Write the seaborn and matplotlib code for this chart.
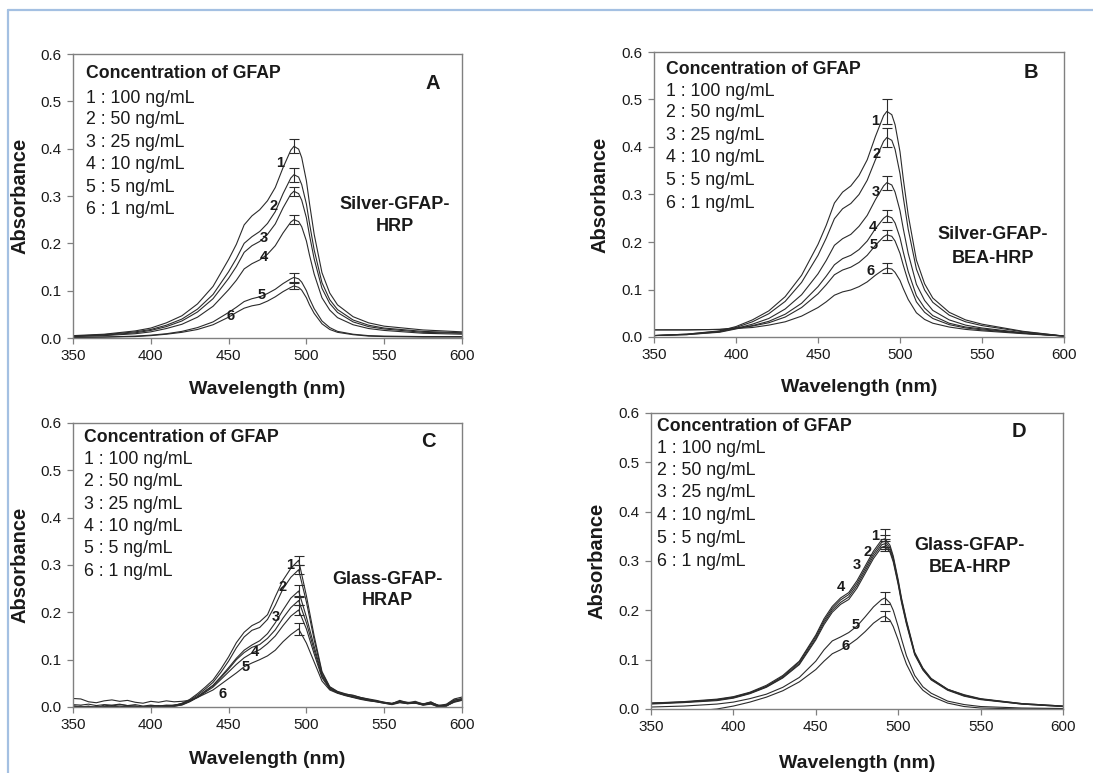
import numpy as np
import pandas as pd
import matplotlib
matplotlib.use("Agg")
import matplotlib.pyplot as plt
import seaborn as sns
from matplotlib.lines import Line2D
from matplotlib.ticker import FormatStrFormatter, MultipleLocator

sns.set_style("ticks")
plt.rcParams["font.family"] = ["Liberation Sans", "DejaVu Sans"]

# ---------------- data ----------------
curve_ids = ["1", "2", "3", "4", "5", "6"]
conc_labels = ["1 : 100 ng/mL", "2 : 50 ng/mL", "3 : 25 ng/mL",
               "4 : 10 ng/mL", "5 : 5 ng/mL", "6 : 1 ng/mL"]
legend_title = "Concentration of GFAP"

wl_grid = [350, 370, 390, 400, 410, 420, 430, 440, 450, 455, 460, 465, 470, 475,
           480, 485, 490, 492, 495, 497, 500, 502, 505, 510, 515, 520, 530, 540,
           550, 575, 600]

wl_grid_c = [350, 355, 360, 365, 370, 375, 380, 385, 390, 395, 400, 405, 410, 415,
             420, 425, 430, 435, 440, 445, 450, 455, 460, 465, 470, 475, 480, 485,
             490, 495, 500, 505, 510, 515, 520, 525, 530, 535, 540, 545, 550, 555,
             560, 565, 570, 575, 580, 585, 590, 595, 600]

# Panel A : Silver-GFAP-HRP
a1 = [.005, .008, .015, .021, .032, .047, .072, .109, .166, .198, .239, .258, .271, .290, .318, .360, .397, .405, .399, .381, .332, .284, .219, .138, .095, .070, .045, .032, .025, .017, .013]
a2 = [.004, .007, .013, .018, .027, .040, .061, .092, .140, .168, .200, .214, .225, .242, .267, .305, .338, .345, .340, .324, .283, .242, .186, .117, .081, .060, .038, .027, .021, .014, .011]
a3 = [.004, .006, .011, .016, .024, .036, .055, .083, .126, .151, .181, .195, .204, .219, .241, .275, .304, .310, .305, .291, .254, .217, .167, .105, .073, .054, .034, .024, .019, .012, .010]
a4 = [.003, .005, .009, .013, .020, .029, .044, .067, .102, .122, .146, .157, .165, .177, .195, .222, .245, .250, .246, .235, .205, .175, .135, .085, .059, .043, .028, .020, .016, .010, .008]
a5 = [.001, .002, .004, .006, .009, .014, .022, .034, .054, .065, .077, .083, .087, .094, .103, .115, .125, .128, .125, .118, .100, .083, .062, .036, .022, .014, .008, .005, .004, .003, .003]
a6 = [.001, .002, .003, .005, .008, .012, .018, .028, .044, .054, .063, .068, .071, .078, .087, .098, .107, .110, .107, .101, .085, .070, .052, .030, .018, .012, .007, .004, .003, .002, .002]
a_err = [0.015, 0.015, 0.010, 0.010, 0.010, 0.007]

# Panel B : Silver-GFAP-BEA-HRP
b1 = [.003, .006, .013, .022, .036, .055, .085, .130, .195, .235, .282, .305, .318, .340, .373, .422, .466, .475, .468, .447, .390, .333, .257, .162, .112, .082, .052, .036, .027, .012, .002]
b2 = [.003, .006, .012, .020, .032, .049, .075, .115, .172, .208, .249, .270, .281, .300, .330, .373, .412, .420, .414, .395, .344, .294, .227, .143, .099, .073, .046, .032, .024, .011, .002]
b3 = [.003, .005, .011, .018, .027, .039, .059, .089, .133, .161, .193, .207, .216, .233, .256, .289, .318, .325, .320, .305, .266, .228, .176, .111, .077, .056, .036, .025, .019, .009, .002]
b4 = [.003, .005, .010, .017, .024, .033, .048, .071, .106, .128, .152, .165, .172, .184, .202, .228, .250, .255, .251, .240, .209, .179, .138, .087, .061, .045, .029, .021, .017, .008, .002]
b5 = [.015, .015, .016, .019, .023, .030, .042, .062, .091, .110, .131, .141, .147, .157, .172, .193, .211, .215, .212, .202, .176, .151, .117, .074, .052, .039, .026, .019, .015, .008, .002]
b6 = [.015, .015, .016, .018, .020, .025, .032, .044, .062, .074, .088, .095, .099, .106, .116, .130, .142, .145, .143, .136, .119, .102, .079, .051, .037, .029, .021, .016, .013, .007, .002]
b_err = [0.027, 0.020, 0.015, 0.012, 0.010, 0.010]

# Panel C : Glass-GFAP-HRAP (noisy, 5 nm grid)
c1 = [.003, .000, .002, -.002, .004, .002, .005, .003, .002, -.001, .003, .002, .004, .003, .008, .016, .028, .042, .057, .080, .106, .136, .158, .172, .180, .195, .233, .268, .293, .310, .235, .150, .075, .043, .033, .028, .024, .020, .017, .014, .010, .007, .014, .009, .012, .006, .010, .003, .006, .017, .021]
c2 = [.000, .002, -.002, .001, .000, .003, -.001, .001, .002, .000, .001, .003, .000, .004, .007, .014, .025, .038, .052, .073, .097, .125, .148, .162, .168, .185, .215, .250, .274, .290, .222, .142, .072, .042, .032, .027, .025, .020, .016, .012, .010, .008, .012, .008, .010, .007, .009, .004, .003, .014, .018]
c3 = [.005, .004, .006, .003, .005, .004, .006, .003, .005, .002, .004, .002, .003, .004, .006, .012, .022, .034, .046, .064, .083, .103, .120, .131, .140, .155, .178, .205, .230, .245, .190, .128, .068, .040, .031, .026, .022, .019, .015, .013, .009, .007, .012, .010, .008, .006, .011, .002, .005, .015, .017]
c4 = [-.001, .001, .000, -.002, .001, .000, .002, -.001, .000, .001, -.001, .001, .002, .001, .005, .012, .021, .033, .045, .062, .080, .100, .115, .126, .132, .145, .163, .188, .210, .225, .178, .120, .065, .039, .030, .025, .021, .018, .014, .012, .009, .006, .011, .008, .009, .005, .008, .001, .002, .012, .016]
c5 = [.001, -.001, .001, .000, -.001, .001, .000, .002, -.001, .000, .001, -.001, .001, .002, .004, .011, .020, .031, .042, .058, .074, .090, .104, .114, .121, .134, .150, .172, .192, .205, .165, .112, .062, .038, .030, .025, .021, .017, .014, .011, .008, .006, .010, .007, .009, .004, .007, .000, .002, .011, .015]
c6 = [.018, .017, .011, .009, .013, .015, .012, .014, .010, .008, .012, .010, .013, .011, .012, .014, .020, .028, .036, .048, .060, .072, .085, .093, .100, .108, .120, .138, .153, .165, .135, .095, .055, .036, .029, .024, .020, .016, .013, .011, .008, .005, .009, .007, .008, .004, .006, .000, .003, .010, .014]
c_err = [0.010, 0.010, 0.012, 0.010, 0.010, 0.012]

# Panel D : Glass-GFAP-BEA-HRP
d1 = [.012, .015, .020, .025, .034, .048, .068, .097, .150, .183, .208, .225, .236, .260, .290, .320, .343, .345, .332, .310, .262, .225, .180, .115, .083, .062, .040, .029, .021, .011, .006]
d2 = [.012, .014, .019, .024, .033, .046, .066, .095, .147, .179, .204, .221, .232, .255, .285, .315, .338, .340, .327, .306, .258, .222, .177, .113, .081, .061, .040, .028, .020, .011, .006]
d3 = [.011, .014, .018, .023, .032, .045, .064, .092, .143, .175, .200, .216, .227, .250, .280, .310, .333, .335, .322, .302, .255, .219, .175, .112, .080, .060, .039, .027, .020, .010, .005]
d4 = [.010, .013, .017, .022, .031, .044, .063, .090, .140, .171, .196, .212, .222, .245, .275, .305, .328, .330, .318, .298, .252, .216, .172, .110, .079, .059, .038, .026, .019, .010, .005]
d5 = [.004, .006, .010, .014, .021, .030, .044, .064, .097, .120, .138, .146, .155, .168, .187, .207, .222, .225, .215, .200, .167, .142, .108, .068, .045, .032, .016, .009, .005, .002, .001]
d6 = [-.010, -.006, .000, .006, .014, .024, .037, .055, .080, .097, .112, .120, .130, .142, .157, .174, .186, .188, .180, .167, .140, .119, .091, .058, .038, .026, .012, .005, .002, .000, .000]
d_err = [0.020, 0.012, 0.010, 0.010, 0.013, 0.010]

panels = [
    dict(letter="A", name=["Silver-GFAP-", "HRP"], wl=wl_grid, series=[a1, a2, a3, a4, a5, a6],
         err=a_err, peak=492,
         rect=(73, 462, 54, 338), ylab_x=20, xlab_y=389,
         title_pos=(358.5, 0.558), lines_y=[0.507, 0.462, 0.414, 0.367, 0.319, 0.271],
         letter_pos=(581, 0.538), name_pos=(557, 0.281, 0.236),
         num_pos=[(483, 0.369), (479, 0.278), (472.5, 0.211), (472.5, 0.172), (471.5, 0.091), (451, 0.047)]),
    dict(letter="B", name=["Silver-GFAP-", "BEA-HRP"], wl=wl_grid, series=[b1, b2, b3, b4, b5, b6],
         err=b_err, peak=492,
         rect=(654, 1064, 52, 337), ylab_x=600, xlab_y=388,
         title_pos=(357.5, 0.564), lines_y=[0.517, 0.472, 0.424, 0.377, 0.329, 0.282],
         letter_pos=(580, 0.556), name_pos=(556.7, 0.215, 0.166),
         num_pos=[(485, 0.454), (486, 0.386), (485, 0.305), (483.5, 0.231), (484, 0.194), (482, 0.138)]),
    dict(letter="C", name=["Glass-GFAP-", "HRAP"], wl=wl_grid_c, series=[c1, c2, c3, c4, c5, c6],
         err=c_err, peak=495,
         rect=(73, 462, 423, 707), ylab_x=20, xlab_y=760,
         title_pos=(357.3, 0.570), lines_y=[0.523, 0.476, 0.428, 0.381, 0.334, 0.286],
         letter_pos=(578.6, 0.561), name_pos=(551.8, 0.270, 0.224),
         num_pos=[(489.7, 0.300), (485, 0.254), (480, 0.190), (467, 0.117), (460.8, 0.084), (446.4, 0.027)]),
    dict(letter="D", name=["Glass-GFAP-", "BEA-HRP"], wl=wl_grid, series=[d1, d2, d3, d4, d5, d6],
         err=d_err, peak=492,
         rect=(651, 1063, 413, 709), ylab_x=597, xlab_y=763,
         title_pos=(353.8, 0.573), lines_y=[0.529, 0.483, 0.438, 0.392, 0.346, 0.300],
         letter_pos=(573.3, 0.563), name_pos=(543.4, 0.331, 0.287),
         num_pos=[(485.7, 0.350), (481.4, 0.319), (475, 0.292), (465.4, 0.248), (474, 0.170), (468, 0.128)]),
]

# ---------------- figure ----------------
W, H = 1093, 773
fig = plt.figure(figsize=(W / 100, H / 100), dpi=100)
fig.patch.set_facecolor("white")

LINE_C = "#2b2b2b"
SPINE_C = "#808080"
TXT_C = "#1a1a1a"

for p in panels:
    l, r, t, b = p["rect"]
    ax = fig.add_axes([l / W, 1 - b / H, (r - l) / W, (b - t) / H])
    wl = p["wl"]
    n = len(wl)
    df = pd.DataFrame({
        "wl": np.tile(np.array(wl, dtype=float), len(curve_ids)),
        "abs": np.concatenate([np.array(s, dtype=float) for s in p["series"]]),
        "curve": np.repeat(curve_ids, n),
    })
    sns.lineplot(data=df, x="wl", y="abs", units="curve", estimator=None,
                 color=LINE_C, linewidth=0.8, ax=ax, legend=False, sort=False)
    ipk = wl.index(p["peak"])
    pk_y = [s[ipk] for s in p["series"]]
    ax.errorbar([p["peak"]] * len(pk_y), pk_y, yerr=p["err"], fmt="none",
                ecolor=LINE_C, elinewidth=0.8, capsize=3.5, capthick=0.8)

    ax.set_xlim(350, 600)
    ax.set_ylim(0, 0.6)
    ax.xaxis.set_major_locator(MultipleLocator(50))
    ax.yaxis.set_major_locator(MultipleLocator(0.1))
    ax.yaxis.set_major_formatter(FormatStrFormatter("%.1f"))
    for sp in ax.spines.values():
        sp.set_visible(True)
        sp.set_color(SPINE_C)
        sp.set_linewidth(1.0)
    ax.tick_params(direction="out", length=4, width=0.9, color=SPINE_C,
                   labelsize=11, labelcolor=TXT_C, pad=4)

    ax.set_xlabel("Wavelength (nm)", fontsize=14, fontweight="bold", color=TXT_C)
    ax.set_ylabel("Absorbance", fontsize=14.5, fontweight="bold", color=TXT_C)
    ax.xaxis.label.set_va("center")
    ax.yaxis.label.set_va("center")
    ax.xaxis.set_label_coords(0.5, -(p["xlab_y"] - b) / (b - t))
    ax.yaxis.set_label_coords((p["ylab_x"] - l) / (r - l), 0.5)

    tx, ty = p["title_pos"]
    ax.text(tx, ty, legend_title, fontsize=12.7, fontweight="bold", color=TXT_C,
            ha="left", va="center")
    for lab, ly in zip(conc_labels, p["lines_y"]):
        ax.text(tx, ly, lab, fontsize=12.8, color=TXT_C, ha="left", va="center")

    lx, ly = p["letter_pos"]
    ax.text(lx, ly, p["letter"], fontsize=14.5, fontweight="bold", color=TXT_C,
            ha="center", va="center")
    nx, ny1, ny2 = p["name_pos"]
    ax.text(nx, ny1, p["name"][0], fontsize=13, fontweight="bold", color=TXT_C,
            ha="center", va="center")
    ax.text(nx, ny2, p["name"][1], fontsize=13, fontweight="bold", color=TXT_C,
            ha="center", va="center")

    for cid, (cx, cy) in zip(curve_ids, p["num_pos"]):
        ax.text(cx, cy, cid, fontsize=10.5, fontweight="bold", color=TXT_C,
                ha="center", va="center")

# light blue page frame
BLUE = "#a4c0e2"
fig.add_artist(Line2D([8 / W, 1.0], [1 - 10 / H, 1 - 10 / H], transform=fig.transFigure,
                      color=BLUE, linewidth=1.6))
fig.add_artist(Line2D([8 / W, 8 / W], [0.0, 1 - 10 / H], transform=fig.transFigure,
                      color=BLUE, linewidth=1.6))

fig.savefig("out.png", dpi=100, facecolor="white")
